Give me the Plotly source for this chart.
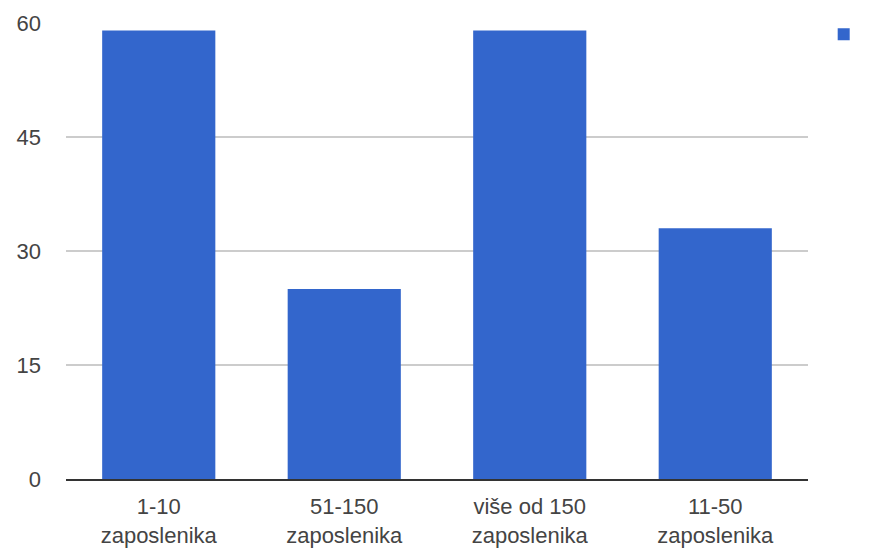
import plotly.graph_objects as go

categories = ["1-10<br>zaposlenika", "51-150<br>zaposlenika", "više od 150<br>zaposlenika", "11-50<br>zaposlenika"]
values = [59, 25, 59, 33]
y_ticks = [0, 15, 30, 45, 60]

fig = go.Figure()
fig.add_trace(go.Bar(
    x=categories, y=values, name=" ",
    marker=dict(color="#3366CC", line=dict(width=0)),
    showlegend=True,
))

font_family = "Liberation Sans, Arial, sans-serif"
fig.update_layout(
    width=865, height=543,
    margin=dict(l=58, r=65, t=15, b=72, autoexpand=False),
    paper_bgcolor="white", plot_bgcolor="white",
    bargap=0.39,
    font=dict(family=font_family, size=22, color="#444444"),
    legend=dict(xref="container", yref="container", x=0.943, y=0.99,
                xanchor="left", yanchor="top", font=dict(size=22),
                bgcolor="rgba(0,0,0,0)"),
    xaxis=dict(showgrid=False, showline=True, linecolor="#333333", linewidth=1.5,
               ticks="", tickfont=dict(size=22, color="#444444"), ticklabelstandoff=7),
    yaxis=dict(range=[0, 60], tickvals=y_ticks, showgrid=True, gridcolor="#cccccc",
               gridwidth=1.5, zeroline=False, showline=False, ticks="",
               tickfont=dict(size=22, color="#444444"), ticklabelstandoff=24),
)

fig.write_html("out.html")
